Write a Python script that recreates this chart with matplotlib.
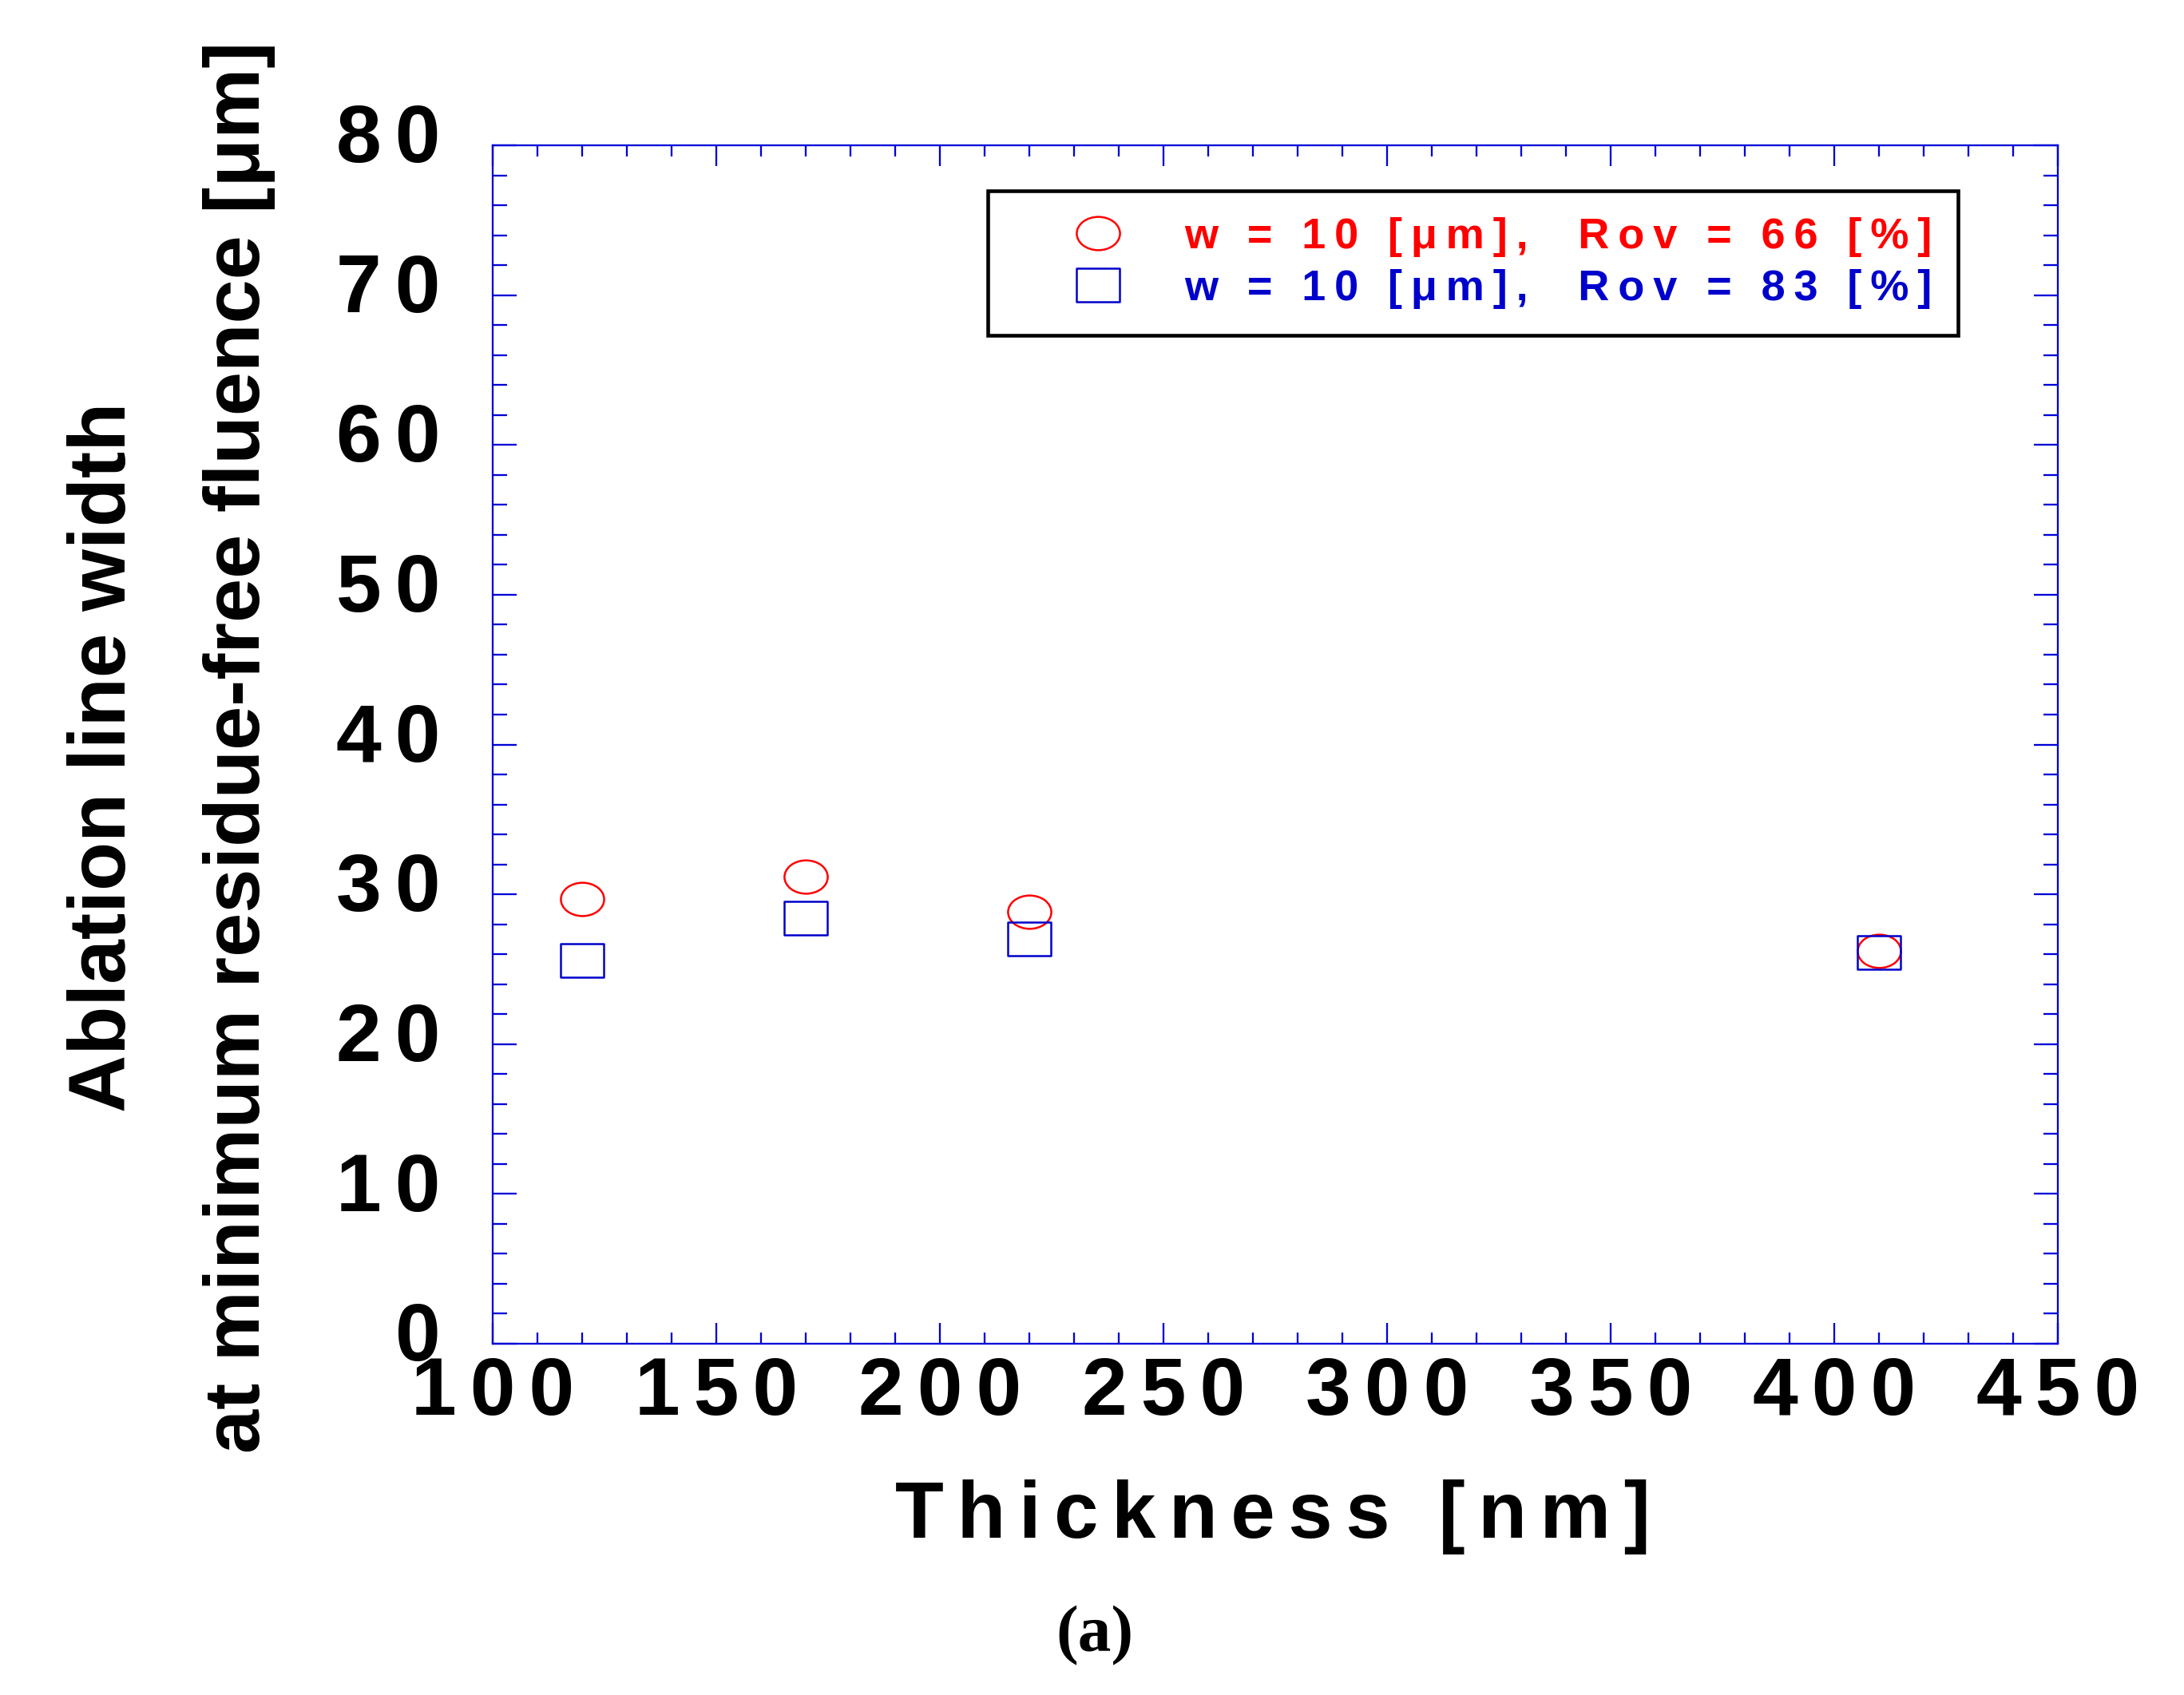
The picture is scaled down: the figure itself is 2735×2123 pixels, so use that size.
import numpy as np
import matplotlib
matplotlib.use("Agg")
import matplotlib.pyplot as plt
from matplotlib.path import Path
from matplotlib.ticker import MultipleLocator, FuncFormatter
from matplotlib.transforms import ScaledTranslation

# ---------------- data ----------------
thickness = [120, 170, 220, 410]
width_rov66 = [29.7, 31.2, 28.85, 26.2]
width_rov83 = [25.6, 28.4, 27.0, 26.1]
series_labels = ["w = 10 [\u03bcm],  Rov = 66 [%]",
                 "w = 10 [\u03bcm],  Rov = 83 [%]"]
xlabel = "Thickness [nm]"
ylabel_line1 = "Ablation line width"
ylabel_line2 = "at minimum residue-free fluence [\u03bcm]"
panel = "(a)"

# ---------------- style ----------------
plt.rcParams["font.family"] = ["Liberation Sans", "DejaVu Sans"]
plt.rcParams["font.weight"] = "bold"
THIN = "\u2009"
SIXTH = "\u2006"


def track(s, sep):
    return sep.join(s)


AX_BLUE = "#0000D8"
RED = "#FF0000"
BLUE = "#0000CC"

circ = Path.unit_circle()
ellipse = Path(circ.vertices * np.array([1.0, 0.77]), circ.codes)
rect = Path([(-1, -0.77), (1, -0.77), (1, 0.77), (-1, 0.77), (-1, -0.77)],
            [Path.MOVETO, Path.LINETO, Path.LINETO, Path.LINETO, Path.CLOSEPOLY])

fig = plt.figure(figsize=(2736 / 300, 2123 / 300), dpi=300)
ax = fig.add_axes([617 / 2736, 1 - 1683 / 2123, 1960 / 2736, 1501 / 2123])

ax.plot(thickness, width_rov66, linestyle="none", marker=ellipse, ms=13,
        mfc="none", mec=RED, mew=0.6, label=track(series_labels[0], THIN))
ax.plot(thickness, width_rov83, linestyle="none", marker=rect, ms=13,
        mfc="none", mec=BLUE, mew=0.6, label=track(series_labels[1], THIN))

ax.set_xlim(100, 450)
ax.set_ylim(0, 80)
ax.xaxis.set_major_locator(MultipleLocator(50))
ax.xaxis.set_minor_locator(MultipleLocator(10))
ax.yaxis.set_major_locator(MultipleLocator(10))
ax.yaxis.set_minor_locator(MultipleLocator(2))
fmt = FuncFormatter(lambda v, p: SIXTH.join(str(int(round(v)))))
ax.xaxis.set_major_formatter(fmt)
ax.yaxis.set_major_formatter(fmt)

for sp in ax.spines.values():
    sp.set_color(AX_BLUE)
    sp.set_linewidth(0.55)

ax.tick_params(axis="both", which="both", direction="in", top=True, right=True,
               color=AX_BLUE, width=0.55, labelcolor="black")
ax.tick_params(axis="x", which="major", length=6.2, pad=3.6, labelsize=24.5)
ax.tick_params(axis="x", which="minor", length=3.4)
ax.tick_params(axis="y", which="major", length=7.2, pad=15.7, labelsize=24.5)
ax.tick_params(axis="y", which="minor", length=4.3)
for lab in ax.get_yticklabels():
    lab.set_transform(lab.get_transform() + ScaledTranslation(0, 3.8 / 72, fig.dpi_scale_trans))
for lab in ax.get_xticklabels() + ax.get_yticklabels():
    lab.set_fontweight("bold")

ax.set_xlabel(track(xlabel, SIXTH), fontsize=23.9, fontweight="bold")
ax.xaxis.set_label_coords(0.4985, (1683 - 1926) / 1500)
ax.xaxis.label.set_va("baseline")

ax.text((157 - 617) / 1960, (1683 - 949) / 1500, ylabel_line1, transform=ax.transAxes,
        rotation=90, rotation_mode="anchor", ha="center", va="baseline",
        fontsize=24, fontweight="bold")
ax.text((325 - 617) / 1960, (1683 - 936) / 1500, ylabel_line2, transform=ax.transAxes,
        rotation=90, rotation_mode="anchor", ha="center", va="baseline",
        fontsize=23.8, fontweight="bold")

leg = ax.legend(loc="lower left", bbox_to_anchor=((1237 - 617) / 1960, (1683 - 421) / 1500),
                borderaxespad=0, borderpad=0.61, labelspacing=0.28, handlelength=3.88,
                handletextpad=0.05, prop={"weight": "bold", "size": 13},
                labelcolor="markeredgecolor", fancybox=False, framealpha=1,
                edgecolor="black", numpoints=1)
leg.get_frame().set_linewidth(1.1)

fig.text(1371 / 2736, 1 - 2068 / 2123, panel, ha="center", va="baseline",
         fontsize=20, fontweight="bold", family=["Liberation Serif", "DejaVu Serif"])

fig.savefig("out.png", dpi=300, facecolor="white")
